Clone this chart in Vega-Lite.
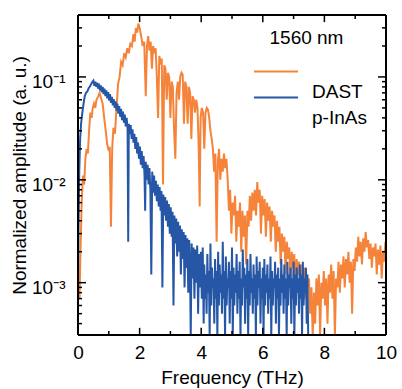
{
  "$schema": "https://vega.github.io/schema/vega-lite/v6.json",
  "width": 308,
  "height": 320,
  "autosize": "none",
  "padding": {"left": 78, "top": 15, "right": 16, "bottom": 54},
  "config": {
    "view": {"stroke": null},
    "font": "Liberation Sans",
    "axis": {"grid": false, "domain": false, "ticks": false, "labelFont": "Liberation Sans", "titleFont": "Liberation Sans", "labelFontSize": 19, "titleFontSize": 19, "titleFontWeight": "normal", "labelColor": "#000000", "titleColor": "#000000", "labelFlush": false}
  },
  "datasets": {
    "xt": [{"t":0,"k":"major"},{"t":1,"k":"minor"},{"t":2,"k":"major"},{"t":3,"k":"minor"},{"t":4,"k":"major"},{"t":5,"k":"minor"},{"t":6,"k":"major"},{"t":7,"k":"minor"},{"t":8,"k":"major"},{"t":9,"k":"minor"},{"t":10,"k":"major"}],
    "yt": [{"t":0.0004,"k":"minor"},{"t":0.0005,"k":"minor"},{"t":0.0006,"k":"minor"},{"t":0.0007,"k":"minor"},{"t":0.0008,"k":"minor"},{"t":0.0009,"k":"minor"},{"t":0.001,"k":"major"},{"t":0.002,"k":"minor"},{"t":0.003,"k":"minor"},{"t":0.004,"k":"minor"},{"t":0.005,"k":"minor"},{"t":0.006,"k":"minor"},{"t":0.007,"k":"minor"},{"t":0.008,"k":"minor"},{"t":0.009,"k":"minor"},{"t":0.01,"k":"major"},{"t":0.02,"k":"minor"},{"t":0.03,"k":"minor"},{"t":0.04,"k":"minor"},{"t":0.05,"k":"minor"},{"t":0.06,"k":"minor"},{"t":0.07,"k":"minor"},{"t":0.08,"k":"minor"},{"t":0.09,"k":"minor"},{"t":0.1,"k":"major"},{"t":0.2,"k":"minor"},{"t":0.3,"k":"minor"}],
    "spec": [
    {"s":"DAST","f":0.0,"v":0.0009},{"s":"DAST","f":0.05,"v":0.0007},{"s":"DAST","f":0.08,"v":0.002},{"s":"DAST","f":0.12,"v":0.006},{"s":"DAST","f":0.16,"v":0.011},{"s":"DAST","f":0.2,"v":0.009},{"s":"DAST","f":0.24,"v":0.016},{"s":"DAST","f":0.28,"v":0.02},{"s":"DAST","f":0.32,"v":0.018},{"s":"DAST","f":0.36,"v":0.03},{"s":"DAST","f":0.4,"v":0.045},{"s":"DAST","f":0.44,"v":0.04},{"s":"DAST","f":0.48,"v":0.05},{"s":"DAST","f":0.52,"v":0.055},{"s":"DAST","f":0.56,"v":0.05},{"s":"DAST","f":0.6,"v":0.06},{"s":"DAST","f":0.65,"v":0.064},{"s":"DAST","f":0.7,"v":0.07},{"s":"DAST","f":0.75,"v":0.062},{"s":"DAST","f":0.8,"v":0.055},{"s":"DAST","f":0.85,"v":0.04},{"s":"DAST","f":0.9,"v":0.03},{"s":"DAST","f":0.95,"v":0.022},{"s":"DAST","f":1.0,"v":0.019},{"s":"DAST","f":1.03,"v":0.021},{"s":"DAST","f":1.07,"v":0.0035},{"s":"DAST","f":1.11,"v":0.02},{"s":"DAST","f":1.15,"v":0.032},{"s":"DAST","f":1.2,"v":0.028},{"s":"DAST","f":1.25,"v":0.05},{"s":"DAST","f":1.3,"v":0.085},{"s":"DAST","f":1.35,"v":0.1},{"s":"DAST","f":1.4,"v":0.14},{"s":"DAST","f":1.45,"v":0.13},{"s":"DAST","f":1.5,"v":0.17},{"s":"DAST","f":1.55,"v":0.155},{"s":"DAST","f":1.6,"v":0.19},{"s":"DAST","f":1.65,"v":0.17},{"s":"DAST","f":1.7,"v":0.21},{"s":"DAST","f":1.75,"v":0.2},{"s":"DAST","f":1.8,"v":0.26},{"s":"DAST","f":1.84,"v":0.22},{"s":"DAST","f":1.88,"v":0.3},{"s":"DAST","f":1.92,"v":0.27},{"s":"DAST","f":1.96,"v":0.33},{"s":"DAST","f":2.0,"v":0.3},{"s":"DAST","f":2.05,"v":0.25},{"s":"DAST","f":2.1,"v":0.2},{"s":"DAST","f":2.15,"v":0.22},{"s":"DAST","f":2.2,"v":0.065},{"s":"DAST","f":2.24,"v":0.2},{"s":"DAST","f":2.28,"v":0.25},{"s":"DAST","f":2.32,"v":0.18},{"s":"DAST","f":2.36,"v":0.22},{"s":"DAST","f":2.4,"v":0.12},{"s":"DAST","f":2.44,"v":0.2},{"s":"DAST","f":2.48,"v":0.17},{"s":"DAST","f":2.52,"v":0.19},{"s":"DAST","f":2.56,"v":0.1},{"s":"DAST","f":2.6,"v":0.04},{"s":"DAST","f":2.64,"v":0.16},{"s":"DAST","f":2.68,"v":0.14},{"s":"DAST","f":2.72,"v":0.15},{"s":"DAST","f":2.76,"v":0.009},{"s":"DAST","f":2.8,"v":0.13},{"s":"DAST","f":2.84,"v":0.12},{"s":"DAST","f":2.88,"v":0.06},{"s":"DAST","f":2.92,"v":0.11},{"s":"DAST","f":2.96,"v":0.1},{"s":"DAST","f":3.0,"v":0.04},{"s":"DAST","f":3.04,"v":0.09},{"s":"DAST","f":3.08,"v":0.08},{"s":"DAST","f":3.12,"v":0.03},{"s":"DAST","f":3.16,"v":0.016},{"s":"DAST","f":3.2,"v":0.07},{"s":"DAST","f":3.24,"v":0.09},{"s":"DAST","f":3.28,"v":0.06},{"s":"DAST","f":3.32,"v":0.1},{"s":"DAST","f":3.36,"v":0.11},{"s":"DAST","f":3.4,"v":0.105},{"s":"DAST","f":3.44,"v":0.035},{"s":"DAST","f":3.48,"v":0.09},{"s":"DAST","f":3.52,"v":0.08},{"s":"DAST","f":3.56,"v":0.035},{"s":"DAST","f":3.6,"v":0.08},{"s":"DAST","f":3.64,"v":0.07},{"s":"DAST","f":3.68,"v":0.025},{"s":"DAST","f":3.72,"v":0.065},{"s":"DAST","f":3.76,"v":0.06},{"s":"DAST","f":3.8,"v":0.045},{"s":"DAST","f":3.84,"v":0.06},{"s":"DAST","f":3.88,"v":0.05},{"s":"DAST","f":3.92,"v":0.02},{"s":"DAST","f":3.95,"v":0.0055},{"s":"DAST","f":3.98,"v":0.04},{"s":"DAST","f":4.02,"v":0.05},{"s":"DAST","f":4.06,"v":0.045},{"s":"DAST","f":4.1,"v":0.02},{"s":"DAST","f":4.14,"v":0.045},{"s":"DAST","f":4.18,"v":0.05},{"s":"DAST","f":4.22,"v":0.048},{"s":"DAST","f":4.26,"v":0.04},{"s":"DAST","f":4.3,"v":0.03},{"s":"DAST","f":4.34,"v":0.025},{"s":"DAST","f":4.38,"v":0.02},{"s":"DAST","f":4.42,"v":0.012},{"s":"DAST","f":4.46,"v":0.018},{"s":"DAST","f":4.5,"v":0.0025},{"s":"DAST","f":4.54,"v":0.015},{"s":"DAST","f":4.58,"v":0.02},{"s":"DAST","f":4.62,"v":0.01},{"s":"DAST","f":4.66,"v":0.016},{"s":"DAST","f":4.7,"v":0.012},{"s":"DAST","f":4.74,"v":0.018},{"s":"DAST","f":4.78,"v":0.013},{"s":"DAST","f":4.82,"v":0.016},{"s":"DAST","f":4.86,"v":0.01},{"s":"DAST","f":4.9,"v":0.005},{"s":"DAST","f":4.94,"v":0.008},{"s":"DAST","f":4.98,"v":0.003},{"s":"DAST","f":5.02,"v":0.006},{"s":"DAST","f":5.06,"v":0.0045},{"s":"DAST","f":5.1,"v":0.007},{"s":"DAST","f":5.14,"v":0.0025},{"s":"DAST","f":5.18,"v":0.005},{"s":"DAST","f":5.22,"v":0.0035},{"s":"DAST","f":5.26,"v":0.006},{"s":"DAST","f":5.3,"v":0.002},{"s":"DAST","f":5.34,"v":0.005},{"s":"DAST","f":5.38,"v":0.0028},{"s":"DAST","f":5.42,"v":0.0045},{"s":"DAST","f":5.46,"v":0.0015},{"s":"DAST","f":5.5,"v":0.005},{"s":"DAST","f":5.54,"v":0.0035},{"s":"DAST","f":5.58,"v":0.007},{"s":"DAST","f":5.62,"v":0.004},{"s":"DAST","f":5.66,"v":0.0075},{"s":"DAST","f":5.7,"v":0.005},{"s":"DAST","f":5.74,"v":0.008},{"s":"DAST","f":5.78,"v":0.0045},{"s":"DAST","f":5.82,"v":0.0095},{"s":"DAST","f":5.86,"v":0.006},{"s":"DAST","f":5.9,"v":0.008},{"s":"DAST","f":5.94,"v":0.003},{"s":"DAST","f":5.98,"v":0.007},{"s":"DAST","f":6.02,"v":0.0045},{"s":"DAST","f":6.06,"v":0.0065},{"s":"DAST","f":6.1,"v":0.0028},{"s":"DAST","f":6.14,"v":0.006},{"s":"DAST","f":6.18,"v":0.004},{"s":"DAST","f":6.22,"v":0.0055},{"s":"DAST","f":6.26,"v":0.0025},{"s":"DAST","f":6.3,"v":0.005},{"s":"DAST","f":6.34,"v":0.0035},{"s":"DAST","f":6.38,"v":0.0045},{"s":"DAST","f":6.42,"v":0.002},{"s":"DAST","f":6.46,"v":0.004},{"s":"DAST","f":6.5,"v":0.0025},{"s":"DAST","f":6.54,"v":0.0035},{"s":"DAST","f":6.58,"v":0.0015},{"s":"DAST","f":6.62,"v":0.003},{"s":"DAST","f":6.66,"v":0.002},{"s":"DAST","f":6.7,"v":0.0028},{"s":"DAST","f":6.74,"v":0.0012},{"s":"DAST","f":6.78,"v":0.0025},{"s":"DAST","f":6.82,"v":0.0017},{"s":"DAST","f":6.86,"v":0.0022},{"s":"DAST","f":6.9,"v":0.001},{"s":"DAST","f":6.94,"v":0.002},{"s":"DAST","f":6.98,"v":0.0014},{"s":"DAST","f":7.02,"v":0.0019},{"s":"DAST","f":7.06,"v":0.0009},{"s":"DAST","f":7.1,"v":0.0017},{"s":"DAST","f":7.14,"v":0.0012},{"s":"DAST","f":7.18,"v":0.0016},{"s":"DAST","f":7.22,"v":0.0008},{"s":"DAST","f":7.26,"v":0.0015},{"s":"DAST","f":7.3,"v":0.001},{"s":"DAST","f":7.34,"v":0.0014},{"s":"DAST","f":7.38,"v":0.0007},{"s":"DAST","f":7.42,"v":0.0012},{"s":"DAST","f":7.46,"v":0.0009},{"s":"DAST","f":7.5,"v":0.0011},{"s":"DAST","f":7.54,"v":0.0005},{"s":"DAST","f":7.58,"v":0.0009},{"s":"DAST","f":7.62,"v":0.0003},{"s":"DAST","f":7.66,"v":0.0008},{"s":"DAST","f":7.7,"v":0.0004},{"s":"DAST","f":7.74,"v":0.0011},{"s":"DAST","f":7.78,"v":0.0006},{"s":"DAST","f":7.82,"v":0.0012},{"s":"DAST","f":7.86,"v":0.0003},{"s":"DAST","f":7.9,"v":0.001},{"s":"DAST","f":7.94,"v":0.0007},{"s":"DAST","f":7.98,"v":0.0013},{"s":"DAST","f":8.02,"v":0.0006},{"s":"DAST","f":8.06,"v":0.0011},{"s":"DAST","f":8.1,"v":0.0004},{"s":"DAST","f":8.14,"v":0.0012},{"s":"DAST","f":8.18,"v":0.0008},{"s":"DAST","f":8.22,"v":0.0015},{"s":"DAST","f":8.26,"v":0.0007},{"s":"DAST","f":8.3,"v":0.0013},{"s":"DAST","f":8.34,"v":0.0003},{"s":"DAST","f":8.38,"v":0.0011},{"s":"DAST","f":8.42,"v":0.0009},{"s":"DAST","f":8.46,"v":0.0016},{"s":"DAST","f":8.5,"v":0.0008},{"s":"DAST","f":8.54,"v":0.0015},{"s":"DAST","f":8.58,"v":0.0011},{"s":"DAST","f":8.62,"v":0.0018},{"s":"DAST","f":8.66,"v":0.0009},{"s":"DAST","f":8.7,"v":0.0017},{"s":"DAST","f":8.74,"v":0.0012},{"s":"DAST","f":8.78,"v":0.002},{"s":"DAST","f":8.82,"v":0.001},{"s":"DAST","f":8.86,"v":0.0016},{"s":"DAST","f":8.9,"v":0.0005},{"s":"DAST","f":8.94,"v":0.0017},{"s":"DAST","f":8.98,"v":0.0013},{"s":"DAST","f":9.02,"v":0.0022},{"s":"DAST","f":9.06,"v":0.0016},{"s":"DAST","f":9.1,"v":0.0028},{"s":"DAST","f":9.14,"v":0.0018},{"s":"DAST","f":9.18,"v":0.0025},{"s":"DAST","f":9.22,"v":0.0015},{"s":"DAST","f":9.26,"v":0.0027},{"s":"DAST","f":9.3,"v":0.002},{"s":"DAST","f":9.34,"v":0.0031},{"s":"DAST","f":9.38,"v":0.0022},{"s":"DAST","f":9.42,"v":0.0026},{"s":"DAST","f":9.46,"v":0.0017},{"s":"DAST","f":9.5,"v":0.0024},{"s":"DAST","f":9.54,"v":0.0014},{"s":"DAST","f":9.58,"v":0.0022},{"s":"DAST","f":9.62,"v":0.0018},{"s":"DAST","f":9.66,"v":0.0024},{"s":"DAST","f":9.7,"v":0.0012},{"s":"DAST","f":9.74,"v":0.0021},{"s":"DAST","f":9.78,"v":0.0015},{"s":"DAST","f":9.82,"v":0.0023},{"s":"DAST","f":9.86,"v":0.0011},{"s":"DAST","f":9.9,"v":0.002},{"s":"DAST","f":9.94,"v":0.0016},{"s":"DAST","f":9.98,"v":0.0025},{"s":"DAST","f":10.0,"v":0.0019},
    {"s":"p-InAs","f":0.0,"v":0.001},{"s":"p-InAs","f":0.02,"v":0.004},{"s":"p-InAs","f":0.04,"v":0.012},{"s":"p-InAs","f":0.07,"v":0.025},{"s":"p-InAs","f":0.1,"v":0.035},{"s":"p-InAs","f":0.14,"v":0.045},{"s":"p-InAs","f":0.18,"v":0.055},{"s":"p-InAs","f":0.22,"v":0.065},{"s":"p-InAs","f":0.26,"v":0.07},{"s":"p-InAs","f":0.3,"v":0.072},{"s":"p-InAs","f":0.35,"v":0.078},{"s":"p-InAs","f":0.4,"v":0.082},{"s":"p-InAs","f":0.45,"v":0.088},
    {"s":"p-InAs","f":0.5,"v":0.092},{"s":"p-InAs","f":0.53,"v":0.082},{"s":"p-InAs","f":0.56,"v":0.09},{"s":"p-InAs","f":0.59,"v":0.08},{"s":"p-InAs","f":0.62,"v":0.088},{"s":"p-InAs","f":0.65,"v":0.077},{"s":"p-InAs","f":0.68,"v":0.086},{"s":"p-InAs","f":0.71,"v":0.074},{"s":"p-InAs","f":0.74,"v":0.083},{"s":"p-InAs","f":0.77,"v":0.071},{"s":"p-InAs","f":0.8,"v":0.08},{"s":"p-InAs","f":0.83,"v":0.068},{"s":"p-InAs","f":0.86,"v":0.077},{"s":"p-InAs","f":0.89,"v":0.065},{"s":"p-InAs","f":0.92,"v":0.074},{"s":"p-InAs","f":0.95,"v":0.062},{"s":"p-InAs","f":0.98,"v":0.071},{"s":"p-InAs","f":1.01,"v":0.059},{"s":"p-InAs","f":1.04,"v":0.068},{"s":"p-InAs","f":1.07,"v":0.056},{"s":"p-InAs","f":1.1,"v":0.064},{"s":"p-InAs","f":1.13,"v":0.053},{"s":"p-InAs","f":1.16,"v":0.061},{"s":"p-InAs","f":1.19,"v":0.05},{"s":"p-InAs","f":1.22,"v":0.058},{"s":"p-InAs","f":1.25,"v":0.047},{"s":"p-InAs","f":1.28,"v":0.055},{"s":"p-InAs","f":1.31,"v":0.044},{"s":"p-InAs","f":1.34,"v":0.052},{"s":"p-InAs","f":1.37,"v":0.041},{"s":"p-InAs","f":1.4,"v":0.049},{"s":"p-InAs","f":1.43,"v":0.038},{"s":"p-InAs","f":1.46,"v":0.046},{"s":"p-InAs","f":1.49,"v":0.036},{"s":"p-InAs","f":1.52,"v":0.043},{"s":"p-InAs","f":1.55,"v":0.033},{"s":"p-InAs","f":1.58,"v":0.04},{"s":"p-InAs","f":1.61,"v":0.031},{"s":"p-InAs","f":1.63,"v":0.0025},{"s":"p-InAs","f":1.65,"v":0.035},{"s":"p-InAs","f":1.68,"v":0.028},{"s":"p-InAs","f":1.71,"v":0.034},{"s":"p-InAs","f":1.74,"v":0.025},{"s":"p-InAs","f":1.77,"v":0.031},{"s":"p-InAs","f":1.8,"v":0.023},{"s":"p-InAs","f":1.83,"v":0.028},{"s":"p-InAs","f":1.86,"v":0.02},{"s":"p-InAs","f":1.89,"v":0.026},{"s":"p-InAs","f":1.92,"v":0.018},{"s":"p-InAs","f":1.95,"v":0.023},{"s":"p-InAs","f":1.98,"v":0.016},{"s":"p-InAs","f":2.01,"v":0.021},{"s":"p-InAs","f":2.04,"v":0.014},{"s":"p-InAs","f":2.07,"v":0.019},{"s":"p-InAs","f":2.1,"v":0.013},{"s":"p-InAs","f":2.13,"v":0.017},{"s":"p-InAs","f":2.16,"v":0.011},{"s":"p-InAs","f":2.18,"v":0.005},{"s":"p-InAs","f":2.2,"v":0.015},{"s":"p-InAs","f":2.23,"v":0.01},{"s":"p-InAs","f":2.26,"v":0.014},{"s":"p-InAs","f":2.29,"v":0.009},{"s":"p-InAs","f":2.32,"v":0.013},{"s":"p-InAs","f":2.35,"v":0.008},{"s":"p-InAs","f":2.38,"v":0.0012},{"s":"p-InAs","f":2.41,"v":0.012},{"s":"p-InAs","f":2.44,"v":0.0075},{"s":"p-InAs","f":2.47,"v":0.011},{"s":"p-InAs","f":2.5,"v":0.007},{"s":"p-InAs","f":2.53,"v":0.0098},{"s":"p-InAs","f":2.56,"v":0.0062},{"s":"p-InAs","f":2.59,"v":0.009},{"s":"p-InAs","f":2.62,"v":0.0055},{"s":"p-InAs","f":2.65,"v":0.0085},{"s":"p-InAs","f":2.68,"v":0.005},{"s":"p-InAs","f":2.71,"v":0.0078},{"s":"p-InAs","f":2.74,"v":0.0009},{"s":"p-InAs","f":2.77,"v":0.0072},{"s":"p-InAs","f":2.8,"v":0.0045},{"s":"p-InAs","f":2.83,"v":0.0068},{"s":"p-InAs","f":2.86,"v":0.004},{"s":"p-InAs","f":2.89,"v":0.0063},{"s":"p-InAs","f":2.92,"v":0.0035},{"s":"p-InAs","f":2.95,"v":0.0058},{"s":"p-InAs","f":2.98,"v":0.003},{"s":"p-InAs","f":3.01,"v":0.0054},{"s":"p-InAs","f":3.04,"v":0.0028},{"s":"p-InAs","f":3.07,"v":0.0049},{"s":"p-InAs","f":3.1,"v":0.0006},{"s":"p-InAs","f":3.13,"v":0.0045},{"s":"p-InAs","f":3.16,"v":0.0024},{"s":"p-InAs","f":3.19,"v":0.0042},{"s":"p-InAs","f":3.22,"v":0.0018},{"s":"p-InAs","f":3.25,"v":0.0039},{"s":"p-InAs","f":3.28,"v":0.002},{"s":"p-InAs","f":3.31,"v":0.0036},{"s":"p-InAs","f":3.34,"v":0.0012},{"s":"p-InAs","f":3.37,"v":0.0033},{"s":"p-InAs","f":3.4,"v":0.0017},{"s":"p-InAs","f":3.43,"v":0.0031},{"s":"p-InAs","f":3.46,"v":0.0009},{"s":"p-InAs","f":3.49,"v":0.0029},{"s":"p-InAs","f":3.52,"v":0.0014},{"s":"p-InAs","f":3.55,"v":0.0027},{"s":"p-InAs","f":3.58,"v":0.0008},{"s":"p-InAs","f":3.61,"v":0.0026},{"s":"p-InAs","f":3.64,"v":0.0012},{"s":"p-InAs","f":3.66,"v":0.0003},{"s":"p-InAs","f":3.69,"v":0.0024},{"s":"p-InAs","f":3.72,"v":0.0011},{"s":"p-InAs","f":3.75,"v":0.0022},{"s":"p-InAs","f":3.78,"v":0.0007},{"s":"p-InAs","f":3.81,"v":0.0021},{"s":"p-InAs","f":3.84,"v":0.001},{"s":"p-InAs","f":3.87,"v":0.0023},{"s":"p-InAs","f":3.9,"v":0.0005},{"s":"p-InAs","f":3.93,"v":0.0019},{"s":"p-InAs","f":3.96,"v":0.0009},{"s":"p-InAs","f":3.99,"v":0.002},{"s":"p-InAs","f":4.02,"v":0.0007},{"s":"p-InAs","f":4.05,"v":0.0022},{"s":"p-InAs","f":4.08,"v":0.0004},
    {"s":"p-InAs","f":4.1,"v":0.0015},{"s":"p-InAs","f":4.125,"v":0.0007},{"s":"p-InAs","f":4.15,"v":0.0012},{"s":"p-InAs","f":4.175,"v":0.0005},{"s":"p-InAs","f":4.2,"v":0.0019},{"s":"p-InAs","f":4.225,"v":0.0008},{"s":"p-InAs","f":4.25,"v":0.0013},{"s":"p-InAs","f":4.275,"v":0.0003},{"s":"p-InAs","f":4.3,"v":0.0024},{"s":"p-InAs","f":4.325,"v":0.0006},{"s":"p-InAs","f":4.35,"v":0.0014},{"s":"p-InAs","f":4.375,"v":0.0009},{"s":"p-InAs","f":4.4,"v":0.0011},{"s":"p-InAs","f":4.425,"v":0.0004},{"s":"p-InAs","f":4.45,"v":0.0017},{"s":"p-InAs","f":4.475,"v":0.0007},{"s":"p-InAs","f":4.5,"v":0.0013},{"s":"p-InAs","f":4.525,"v":0.0003},{"s":"p-InAs","f":4.55,"v":0.002},{"s":"p-InAs","f":4.575,"v":0.0006},{"s":"p-InAs","f":4.6,"v":0.0015},{"s":"p-InAs","f":4.625,"v":0.0008},{"s":"p-InAs","f":4.65,"v":0.0012},{"s":"p-InAs","f":4.675,"v":0.0005},{"s":"p-InAs","f":4.7,"v":0.0025},{"s":"p-InAs","f":4.725,"v":0.0007},{"s":"p-InAs","f":4.75,"v":0.0013},{"s":"p-InAs","f":4.775,"v":0.0003},{"s":"p-InAs","f":4.8,"v":0.0018},{"s":"p-InAs","f":4.825,"v":0.0006},{"s":"p-InAs","f":4.85,"v":0.0011},{"s":"p-InAs","f":4.875,"v":0.0009},{"s":"p-InAs","f":4.9,"v":0.0016},{"s":"p-InAs","f":4.925,"v":0.0004},{"s":"p-InAs","f":4.95,"v":0.0013},{"s":"p-InAs","f":4.975,"v":0.0007},{"s":"p-InAs","f":5.0,"v":0.0022},{"s":"p-InAs","f":5.025,"v":0.0003},{"s":"p-InAs","f":5.05,"v":0.0014},{"s":"p-InAs","f":5.075,"v":0.0006},{"s":"p-InAs","f":5.1,"v":0.0012},{"s":"p-InAs","f":5.125,"v":0.0008},{"s":"p-InAs","f":5.15,"v":0.0019},{"s":"p-InAs","f":5.175,"v":0.0005},{"s":"p-InAs","f":5.2,"v":0.0013},{"s":"p-InAs","f":5.225,"v":0.0007},{"s":"p-InAs","f":5.25,"v":0.0016},{"s":"p-InAs","f":5.275,"v":0.0003},{"s":"p-InAs","f":5.3,"v":0.0011},{"s":"p-InAs","f":5.325,"v":0.0006},{"s":"p-InAs","f":5.35,"v":0.0021},{"s":"p-InAs","f":5.375,"v":0.0009},{"s":"p-InAs","f":5.4,"v":0.0014},{"s":"p-InAs","f":5.425,"v":0.0004},{"s":"p-InAs","f":5.45,"v":0.0012},{"s":"p-InAs","f":5.475,"v":0.0007},{"s":"p-InAs","f":5.5,"v":0.0017},{"s":"p-InAs","f":5.525,"v":0.0003},{"s":"p-InAs","f":5.55,"v":0.0013},{"s":"p-InAs","f":5.575,"v":0.0006},{"s":"p-InAs","f":5.6,"v":0.0019},{"s":"p-InAs","f":5.625,"v":0.0008},{"s":"p-InAs","f":5.65,"v":0.0011},{"s":"p-InAs","f":5.675,"v":0.0005},{"s":"p-InAs","f":5.7,"v":0.0015},{"s":"p-InAs","f":5.725,"v":0.0007},{"s":"p-InAs","f":5.75,"v":0.0012},{"s":"p-InAs","f":5.775,"v":0.0003},{"s":"p-InAs","f":5.8,"v":0.0018},{"s":"p-InAs","f":5.825,"v":0.0006},{"s":"p-InAs","f":5.85,"v":0.0013},{"s":"p-InAs","f":5.875,"v":0.0009},{"s":"p-InAs","f":5.9,"v":0.0016},{"s":"p-InAs","f":5.925,"v":0.0004},{"s":"p-InAs","f":5.95,"v":0.0011},{"s":"p-InAs","f":5.975,"v":0.0007},{"s":"p-InAs","f":6.0,"v":0.0014},{"s":"p-InAs","f":6.025,"v":0.0003},{"s":"p-InAs","f":6.05,"v":0.0017},{"s":"p-InAs","f":6.075,"v":0.0006},{"s":"p-InAs","f":6.1,"v":0.0012},{"s":"p-InAs","f":6.125,"v":0.0008},{"s":"p-InAs","f":6.15,"v":0.0015},{"s":"p-InAs","f":6.175,"v":0.0005},{"s":"p-InAs","f":6.2,"v":0.0011},{"s":"p-InAs","f":6.225,"v":0.0007},{"s":"p-InAs","f":6.25,"v":0.0018},{"s":"p-InAs","f":6.275,"v":0.0003},{"s":"p-InAs","f":6.3,"v":0.0013},{"s":"p-InAs","f":6.325,"v":0.0006},{"s":"p-InAs","f":6.35,"v":0.0011},{"s":"p-InAs","f":6.375,"v":0.0009},{"s":"p-InAs","f":6.4,"v":0.0016},{"s":"p-InAs","f":6.425,"v":0.0004},{"s":"p-InAs","f":6.45,"v":0.0012},{"s":"p-InAs","f":6.475,"v":0.0007},{"s":"p-InAs","f":6.5,"v":0.0014},{"s":"p-InAs","f":6.525,"v":0.0003},{"s":"p-InAs","f":6.55,"v":0.0011},{"s":"p-InAs","f":6.575,"v":0.0006},{"s":"p-InAs","f":6.6,"v":0.0017},{"s":"p-InAs","f":6.625,"v":0.0008},{"s":"p-InAs","f":6.65,"v":0.0012},{"s":"p-InAs","f":6.675,"v":0.0005},{"s":"p-InAs","f":6.7,"v":0.0015},{"s":"p-InAs","f":6.725,"v":0.0007},{"s":"p-InAs","f":6.75,"v":0.0011},{"s":"p-InAs","f":6.775,"v":0.0003},{"s":"p-InAs","f":6.8,"v":0.0016},{"s":"p-InAs","f":6.825,"v":0.0006},{"s":"p-InAs","f":6.85,"v":0.0012},{"s":"p-InAs","f":6.875,"v":0.0009},{"s":"p-InAs","f":6.9,"v":0.0014},{"s":"p-InAs","f":6.925,"v":0.0004},{"s":"p-InAs","f":6.95,"v":0.0011},{"s":"p-InAs","f":6.975,"v":0.0007},{"s":"p-InAs","f":7.0,"v":0.0016},{"s":"p-InAs","f":7.025,"v":0.0003},{"s":"p-InAs","f":7.05,"v":0.0012},{"s":"p-InAs","f":7.075,"v":0.0006},{"s":"p-InAs","f":7.1,"v":0.0014},{"s":"p-InAs","f":7.125,"v":0.0008},{"s":"p-InAs","f":7.15,"v":0.0011},{"s":"p-InAs","f":7.175,"v":0.0005},{"s":"p-InAs","f":7.2,"v":0.0015},{"s":"p-InAs","f":7.225,"v":0.0007},{"s":"p-InAs","f":7.25,"v":0.0012},{"s":"p-InAs","f":7.275,"v":0.0003},{"s":"p-InAs","f":7.3,"v":0.0016},{"s":"p-InAs","f":7.325,"v":0.0006},{"s":"p-InAs","f":7.35,"v":0.0011},{"s":"p-InAs","f":7.375,"v":0.0008},{"s":"p-InAs","f":7.4,"v":0.0014},{"s":"p-InAs","f":7.425,"v":0.0004},{"s":"p-InAs","f":7.45,"v":0.0012},{"s":"p-InAs","f":7.475,"v":0.0003}
    ]
  },
  "layer": [
    {
      "data": {"name": "spec"},
      "transform": [{"filter": "datum.s == 'DAST'"}],
      "mark": {"type": "line", "strokeWidth": 2, "clip": true},
      "encoding": {
        "x": {"field": "f", "type": "quantitative", "scale": {"domain": [0, 10], "nice": false, "zero": false}, "axis": {"orient": "bottom", "values": [0, 2, 4, 6, 8, 10], "labelPadding": 8, "title": "Frequency (THz)", "titlePadding": 6}},
        "y": {"field": "v", "type": "quantitative", "scale": {"type": "log", "domain": [0.00031, 0.4], "nice": false}, "axis": {"orient": "left", "values": [0.001, 0.01, 0.1], "labelPadding": 13, "labelOffset": 5, "labelExpr": "'10' + (datum.value > 0.05 ? '⁻¹' : datum.value > 0.005 ? '⁻²' : '⁻³')", "title": "Normalized amplitude (a. u.)", "titlePadding": 2}},
        "color": {"field": "s", "type": "nominal", "scale": {"domain": ["DAST", "p-InAs"], "range": ["#F5843A", "#2656A6"]},
          "legend": {"orient": "none", "legendX": 191.5, "legendY": 14, "title": "1560 nm", "titleFontSize": 19, "titleFontWeight": "normal", "titleFont": "Liberation Sans", "titleColor": "#000000", "titlePadding": 17, "labelExpr": "''", "labelFontSize": 1, "symbolType": "M-4,0H4", "symbolSize": 121, "symbolStrokeWidth": 2, "rowPadding": 15, "padding": 0, "labelOffset": 0}},
        "strokeDash": {"field": "s", "type": "nominal", "scale": {"range": [[1, 0], [1, 0]]},
          "legend": {"orient": "none", "legendX": 215, "legendY": 67, "title": null, "labelFontSize": 19, "labelFont": "Liberation Sans", "labelColor": "#000000", "symbolOpacity": 0, "symbolSize": 1, "symbolStrokeWidth": 0, "rowPadding": 6, "padding": 0, "labelOffset": 0}}
      }
    },
    {
      "data": {"name": "spec"},
      "transform": [{"filter": "datum.s == 'p-InAs'"}],
      "mark": {"type": "line", "strokeWidth": 2, "clip": true},
      "encoding": {
        "x": {"field": "f", "type": "quantitative", "scale": {"domain": [0, 10], "nice": false, "zero": false}},
        "y": {"field": "v", "type": "quantitative", "scale": {"type": "log", "domain": [0.00031, 0.4], "nice": false}},
        "color": {"field": "s", "type": "nominal"},
        "strokeDash": {"field": "s", "type": "nominal"}
      }
    },
    {
      "data": {"name": "xt"},
      "transform": [{"filter": "datum.t == 0"}],
      "mark": {"type": "rule", "color": "#000000", "strokeWidth": 2},
      "encoding": {"x": {"datum": 0, "type": "quantitative"}, "y": {"datum": 0.00031, "type": "quantitative"}, "y2": {"datum": 0.4}}
    },
    {
      "data": {"name": "xt"},
      "transform": [{"filter": "datum.t == 0"}],
      "mark": {"type": "rule", "color": "#000000", "strokeWidth": 2},
      "encoding": {"x": {"datum": 10, "type": "quantitative"}, "y": {"datum": 0.00031, "type": "quantitative"}, "y2": {"datum": 0.4}}
    },
    {
      "data": {"name": "xt"},
      "transform": [{"filter": "datum.t == 0"}],
      "mark": {"type": "rule", "color": "#000000", "strokeWidth": 2},
      "encoding": {"y": {"datum": 0.4, "type": "quantitative"}, "x": {"datum": 0, "type": "quantitative"}, "x2": {"datum": 10}}
    },
    {
      "data": {"name": "xt"},
      "transform": [{"filter": "datum.t == 0"}],
      "mark": {"type": "rule", "color": "#000000", "strokeWidth": 2},
      "encoding": {"y": {"datum": 0.00031, "type": "quantitative"}, "x": {"datum": 0, "type": "quantitative"}, "x2": {"datum": 10}}
    },
    {
      "data": {"name": "xt"},
      "transform": [{"filter": "datum.k == 'major'"}],
      "mark": {"type": "rule", "color": "#000000", "strokeWidth": 1.5},
      "encoding": {"x": {"field": "t", "type": "quantitative"}, "y": {"datum": 0.00031, "type": "quantitative"}, "y2": {"datum": 0.000364}}
    },
    {
      "data": {"name": "xt"},
      "transform": [{"filter": "datum.k == 'minor'"}],
      "mark": {"type": "rule", "color": "#000000", "strokeWidth": 1.5},
      "encoding": {"x": {"field": "t", "type": "quantitative"}, "y": {"datum": 0.00031, "type": "quantitative"}, "y2": {"datum": 0.000339}}
    },
    {
      "data": {"name": "xt"},
      "transform": [{"filter": "datum.k == 'major'"}],
      "mark": {"type": "rule", "color": "#000000", "strokeWidth": 1.5},
      "encoding": {"x": {"field": "t", "type": "quantitative"}, "y": {"datum": 0.4, "type": "quantitative"}, "y2": {"datum": 0.341}}
    },
    {
      "data": {"name": "xt"},
      "transform": [{"filter": "datum.k == 'minor'"}],
      "mark": {"type": "rule", "color": "#000000", "strokeWidth": 1.5},
      "encoding": {"x": {"field": "t", "type": "quantitative"}, "y": {"datum": 0.4, "type": "quantitative"}, "y2": {"datum": 0.366}}
    },
    {
      "data": {"name": "yt"},
      "transform": [{"filter": "datum.k == 'major'"}],
      "mark": {"type": "rule", "color": "#000000", "strokeWidth": 1.5},
      "encoding": {"y": {"field": "t", "type": "quantitative"}, "x": {"datum": 0, "type": "quantitative"}, "x2": {"datum": 0.26}}
    },
    {
      "data": {"name": "yt"},
      "transform": [{"filter": "datum.k == 'minor'"}],
      "mark": {"type": "rule", "color": "#000000", "strokeWidth": 1.5},
      "encoding": {"y": {"field": "t", "type": "quantitative"}, "x": {"datum": 0, "type": "quantitative"}, "x2": {"datum": 0.13}}
    },
    {
      "data": {"name": "yt"},
      "transform": [{"filter": "datum.k == 'major'"}],
      "mark": {"type": "rule", "color": "#000000", "strokeWidth": 1.5},
      "encoding": {"y": {"field": "t", "type": "quantitative"}, "x": {"datum": 10, "type": "quantitative"}, "x2": {"datum": 9.74}}
    },
    {
      "data": {"name": "yt"},
      "transform": [{"filter": "datum.k == 'minor'"}],
      "mark": {"type": "rule", "color": "#000000", "strokeWidth": 1.5},
      "encoding": {"y": {"field": "t", "type": "quantitative"}, "x": {"datum": 10, "type": "quantitative"}, "x2": {"datum": 9.87}}
    }
  ]
}
